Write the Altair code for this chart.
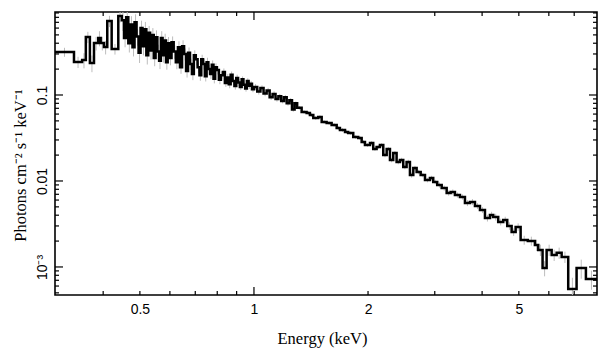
import altair as alt
import pandas as pd
import numpy as np

# ---------------- data ----------------
E_MIN, E_MAX = 0.2985, 8.04
F_MIN, F_MAX = 4.72e-4, 0.923

# coarse low-energy bins
e_lo_soft = [0.2985, 0.335, 0.352, 0.360, 0.369, 0.3783, 0.3883, 0.3940, 0.4019, 0.4101, 0.4212, 0.4385]
flux_soft = [0.316, 0.242, 0.255, 0.472, 0.236, 0.402, 0.460, 0.402, 0.361, 0.725, 0.343, 0.829]
err_soft = [0.12, 0.15, 0.2, 0.15, 0.22, 0.18, 0.2, 0.18, 0.18, 0.15, 0.14, 0.16]

# dense, noisy bins 0.45 - 1 keV
e_lo_dense = [0.448, 0.454, 0.460, 0.466, 0.472, 0.478, 0.484, 0.490, 0.496, 0.502,
              0.508, 0.514, 0.520, 0.526, 0.532, 0.538, 0.544, 0.550, 0.556, 0.562,
              0.568, 0.574, 0.580, 0.586, 0.592,
              0.598, 0.606, 0.614, 0.622, 0.630, 0.638, 0.646, 0.654, 0.662, 0.670,
              0.678, 0.686, 0.694, 0.702, 0.710, 0.718, 0.726, 0.734, 0.742, 0.750,
              0.758, 0.766, 0.774, 0.782, 0.790,
              0.798, 0.808, 0.818, 0.828, 0.838, 0.848, 0.858, 0.868, 0.878, 0.888,
              0.898, 0.908, 0.918, 0.928, 0.938, 0.948, 0.958, 0.968, 0.978, 0.988]
flux_dense = [0.74, 0.46, 0.80, 0.40, 0.66, 0.36, 0.70, 0.48, 0.31, 0.60,
              0.37, 0.58, 0.29, 0.53, 0.33, 0.50, 0.27, 0.47, 0.32, 0.25,
              0.46, 0.29, 0.43, 0.24, 0.40,
              0.27, 0.41, 0.32, 0.24, 0.36, 0.21, 0.37, 0.30, 0.19, 0.31,
              0.23, 0.175, 0.29, 0.26, 0.21, 0.17, 0.26, 0.23, 0.165, 0.24,
              0.20, 0.175, 0.225, 0.155, 0.21,
              0.195, 0.15, 0.17, 0.185, 0.138, 0.16, 0.133, 0.172, 0.145, 0.127,
              0.158, 0.14, 0.124, 0.152, 0.132, 0.119, 0.145, 0.128, 0.135, 0.117]
err_dense = [0.25, 0.22, 0.25, 0.22, 0.25, 0.22, 0.24, 0.22, 0.24, 0.22,
             0.22, 0.22, 0.22, 0.2, 0.22, 0.2, 0.2, 0.2, 0.2, 0.2,
             0.2, 0.18, 0.2, 0.18, 0.18,
             0.18, 0.17, 0.18, 0.17, 0.17, 0.16, 0.17, 0.16, 0.16, 0.15,
             0.15, 0.15, 0.14, 0.15, 0.14, 0.14, 0.13, 0.14, 0.13, 0.13,
             0.12, 0.12, 0.12, 0.12, 0.11,
             0.11, 0.11, 0.1, 0.1, 0.1, 0.1, 0.1, 0.09, 0.09, 0.09,
             0.09, 0.09, 0.08, 0.08, 0.08, 0.08, 0.08, 0.08, 0.08, 0.08]

# bins above 1 keV
e_lo_hard = [1.00, 1.02, 1.04, 1.06, 1.08, 1.10, 1.12, 1.14, 1.16, 1.18,
             1.20, 1.22, 1.24, 1.26, 1.28, 1.30,
             1.336, 1.377, 1.405, 1.434, 1.478, 1.509, 1.555, 1.603,
             1.653, 1.686, 1.739, 1.773, 1.828, 1.884, 1.924, 1.963, 2.024, 2.064,
             2.107, 2.150, 2.194, 2.240, 2.285, 2.331, 2.379, 2.428, 2.477, 2.528,
             2.580, 2.633, 2.687, 2.754, 2.827, 2.913, 2.972, 3.045, 3.129, 3.225,
             3.304, 3.391, 3.496, 3.604, 3.715, 3.830, 3.948, 4.070, 4.195, 4.280,
             4.411, 4.547, 4.660, 4.786, 4.904, 5.055, 5.28, 5.513, 5.626, 5.776,
             5.920, 6.104, 6.292, 6.486, 6.750, 7.102, 7.516]
flux_hard = [0.124, 0.110, 0.121, 0.104, 0.113, 0.094, 0.103, 0.090, 0.097, 0.085,
             0.094, 0.080, 0.087, 0.068, 0.080, 0.071,
             0.0634, 0.0618, 0.0585, 0.0540, 0.0555, 0.0485, 0.0472, 0.0448,
             0.0413, 0.0392, 0.0371, 0.0361, 0.0325, 0.0316, 0.0284, 0.0262, 0.0277, 0.0236,
             0.0248, 0.0262, 0.0201, 0.0236, 0.01755, 0.0212, 0.01663, 0.01755, 0.01455, 0.01663,
             0.01174, 0.01416, 0.01273, 0.01174, 0.01027, 0.01084, 0.00974, 0.00899, 0.00829, 0.00725,
             0.00745, 0.00687, 0.00652, 0.00555, 0.00570, 0.00512, 0.00460, 0.00371, 0.00402, 0.00381,
             0.00334, 0.00352, 0.00300, 0.00255, 0.00292, 0.00206, 0.00201, 0.00180, 0.00158, 0.000973,
             0.00158, 0.00138, 0.00146, 0.00131, 0.000555, 0.000973, 0.000724]
err_hard = [0.08, 0.08, 0.07, 0.07, 0.07, 0.07, 0.07, 0.07, 0.06, 0.06,
            0.06, 0.06, 0.06, 0.06, 0.05, 0.05,
            0.05, 0.05, 0.05, 0.05, 0.05, 0.05, 0.05, 0.05,
            0.05, 0.05, 0.05, 0.05, 0.05, 0.05, 0.05, 0.05, 0.05, 0.05,
            0.05, 0.05, 0.06, 0.05, 0.06, 0.05, 0.06, 0.06, 0.06, 0.06,
            0.07, 0.06, 0.06, 0.06, 0.06, 0.06, 0.06, 0.07, 0.07, 0.07,
            0.07, 0.07, 0.07, 0.08, 0.08, 0.08, 0.08, 0.09, 0.09, 0.09,
            0.09, 0.09, 0.1, 0.1, 0.1, 0.12, 0.12, 0.15, 0.15, 0.2,
            0.15, 0.15, 0.15, 0.15, 0.35, 0.25, 0.25]

x_tick_values = [0.5, 1, 2, 5]
x_major_ticks = [1]
x_minor_ticks = [0.4, 0.5, 0.6, 0.7, 0.8, 0.9, 2, 3, 4, 5, 6, 7]
y_tick_values = [0.001, 0.01, 0.1]
y_tick_labels = ["10⁻³", "0.01", "0.1"]
y_major_ticks = [0.001, 0.01, 0.1]
y_minor_ticks = [5e-4, 6e-4, 7e-4, 8e-4, 9e-4,
                 0.002, 0.003, 0.004, 0.005, 0.006, 0.007, 0.008, 0.009,
                 0.02, 0.03, 0.04, 0.05, 0.06, 0.07, 0.08, 0.09,
                 0.2, 0.3, 0.4, 0.5, 0.6, 0.7, 0.8, 0.9]

x_title = "Energy (keV)"
y_title = "Photons cm⁻² s⁻¹ keV⁻¹"

# ---------------- tables ----------------
e_lo = e_lo_soft + e_lo_dense + e_lo_hard
flux = flux_soft + flux_dense + flux_hard
err = err_soft + err_dense + err_hard
assert len(e_lo) == len(flux) == len(err)
e_hi = e_lo[1:] + [E_MAX]

step_df = pd.DataFrame({"E": e_lo + [E_MAX], "F": flux + [flux[-1]]})
F = np.array(flux)
R = np.array(err)
err_df = pd.DataFrame({
    "Ec": np.sqrt(np.array(e_lo) * np.array(e_hi)),
    "lo": F * (1 - R),
    "hi": F * (1 + R),
})

W, H = 542, 283
xscale = alt.Scale(type="log", domain=[E_MIN, E_MAX], nice=False)
yscale = alt.Scale(type="log", domain=[F_MIN, F_MAX], nice=False)

ylabel_expr = (f"datum.value < 0.005 ? '{y_tick_labels[0]}' : "
               f"(datum.value < 0.05 ? '{y_tick_labels[1]}' : '{y_tick_labels[2]}')")

errbars = alt.Chart(err_df).mark_rule(color="#bdbdbd", strokeWidth=1, clip=True).encode(
    x=alt.X("Ec:Q", scale=xscale, axis=None),
    y=alt.Y("lo:Q", scale=yscale, axis=None),
    y2="hi:Q",
)

line = alt.Chart(step_df).mark_line(
    interpolate="step-after", color="black", strokeWidth=2.5, clip=True
).encode(
    x=alt.X("E:Q", scale=xscale, axis=alt.Axis(
        values=x_tick_values, format="~g", ticks=False, tickSize=0, domain=False, grid=False,
        labelFont="Liberation Sans", labelFontSize=14, labelColor="black", labelPadding=7,
        labelOverlap=False, labelFlush=False,
        title=x_title, titleFont="Liberation Serif", titleFontSize=16.5, titleFontWeight="normal",
        titleColor="black", titleX=267, titleY=48, titleBaseline="alphabetic", titleAlign="center",
    )),
    y=alt.Y("F:Q", scale=yscale, axis=alt.Axis(
        values=y_tick_values, labelExpr=ylabel_expr, ticks=False, tickSize=0, domain=False, grid=False,
        labelFont="Liberation Sans", labelFontSize=14, labelColor="black", labelPadding=9,
        labelAngle=270, labelAlign="center", labelBaseline="alphabetic",
        labelOverlap=False, labelFlush=False,
        title=y_title, titleFont="Liberation Serif", titleFontSize=16.5, titleFontWeight="normal",
        titleColor="black", titleAngle=270, titleX=-30, titleY=153,
        titleBaseline="alphabetic", titleAlign="center",
    )),
)


def x_ticks(vals, length, top):
    df = pd.DataFrame({"v": vals})
    if top:
        yy, yy2 = alt.value(0), alt.value(length)
    else:
        yy, yy2 = alt.value(H), alt.value(H - length)
    return alt.Chart(df).mark_rule(color="black", strokeWidth=1.2).encode(
        x=alt.X("v:Q", scale=xscale, axis=None), y=yy, y2=yy2)


def y_ticks(vals, length, right):
    df = pd.DataFrame({"v": vals})
    if right:
        xx, xx2 = alt.value(W), alt.value(W - length)
    else:
        xx, xx2 = alt.value(0), alt.value(length)
    return alt.Chart(df).mark_rule(color="black", strokeWidth=1.2).encode(
        y=alt.Y("v:Q", scale=yscale, axis=None), x=xx, x2=xx2)


tick_layers = [
    x_ticks(x_major_ticks, 8, False), x_ticks(x_minor_ticks, 4, False),
    x_ticks(x_major_ticks, 8, True), x_ticks(x_minor_ticks, 4, True),
    y_ticks(y_major_ticks, 8, False), y_ticks(y_minor_ticks, 4, False),
    y_ticks(y_major_ticks, 8, True), y_ticks(y_minor_ticks, 4, True),
]

chart = alt.layer(errbars, line, *tick_layers).resolve_axis(
    x="independent", y="independent"
).properties(
    width=W, height=H,
    background="white",
    autosize=alt.AutoSizeParams(type="none"),
    padding={"left": 47, "top": 4, "right": 4, "bottom": 54},
).configure_view(stroke="black", strokeWidth=1.6)

chart.save("out.html", embed_options={"renderer": "svg", "actions": False})
